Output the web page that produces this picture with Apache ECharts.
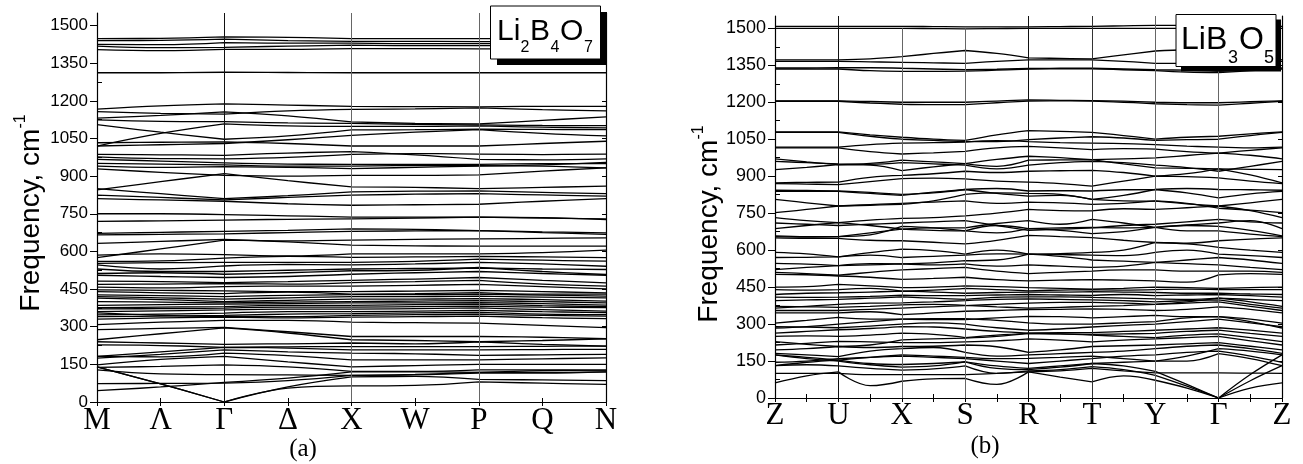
<!DOCTYPE html>
<html>
<head>
<meta charset="utf-8">
<script src="https://cdn.jsdelivr.net/npm/echarts@6/dist/echarts.min.js"></script>
<style>
html, body { margin: 0; padding: 0; background: #fff; }
#main { width: 1303px; height: 464px; }
</style>
</head>
<body>
<div id="main"></div>
<script>
// k-path labels
var kLabelsA = ['M', 'Λ', 'Γ', 'Δ', 'X', 'W', 'P', 'Q', 'N'];
var kLabelsB = ['Z', 'U', 'X', 'S', 'R', 'T', 'Y', 'Γ', 'Z'];

// frequency ticks, cm-1
var freqLabels = [0, 150, 300, 450, 600, 750, 900, 1050, 1200, 1350, 1500];
var freqMinor = [75, 225, 375, 525, 675, 825, 975, 1125, 1275, 1425];

// (a) Li2B4O7 : values at M, Λ, Γ, Δ, X, W, P, Q, N
var bandsA_top = [
	[1448,1449,1455,1453,1448,1448,1448,1448,1448],
	[1440,1441,1446,1440,1437,1437,1436,1436,1436],
	[1425,1424,1432,1430,1430,1428,1428,1428,1428],
	[1418,1412,1413,1418,1422,1420,1420,1420,1420],
	[1404,1400,1405,1405,1408,1408,1407,1407,1407],
	[1312,1312,1314,1313,1312,1312,1312,1312,1312]
];
var bandsA_1100 = [
	[1167,1180,1188,1183,1178,1177,1176,1178,1178],
	[1157,1150,1147,1160,1166,1168,1172,1165,1160],
	[1131,1142,1156,1140,1116,1110,1108,1122,1136],
	[1124,1118,1117,1112,1110,1106,1104,1102,1101],
	[1105,1075,1047,1060,1084,1085,1087,1086,1085],
	[1020,1070,1108,1100,1098,1098,1100,1095,1092],
	[1033,1035,1036,1030,1020,1020,1020,1030,1039],
	[1020,1025,1030,1045,1062,1075,1085,1070,1060]
];
var bandsA_900 = [
	[987,985,983,992,998,985,967,965,969],
	[977,970,969,975,987,990,988,986,988],
	[967,960,953,948,947,947,947,950,950],
	[951,948,945,940,940,942,942,940,933],
	[940,935,938,935,930,935,940,945,955],
	[929,915,903,900,903,903,905,920,933],
	[845,878,910,882,857,855,850,855,860],
	[850,830,810,822,837,840,841,835,830],
	[824,815,805,815,824,828,830,825,820],
	[810,805,800,790,784,786,788,800,810]
];
var bandsA_650 = [
	[750,750,747,742,737,737,737,735,727],
	[720,722,725,728,730,733,737,733,730],
	[672,676,680,684,690,688,683,678,674],
	[666,668,670,675,680,682,683,675,668],
	[632,640,648,638,625,622,621,621,621],
	[575,610,645,642,645,648,650,652,654],
	[585,590,587,582,590,590,590,595,605]
];
var bandsA_500 = [
	[560,562,573,580,576,578,580,578,575],
	[552,555,556,556,556,560,569,565,561],
	[546,530,542,548,546,550,556,550,541],
	[530,520,520,525,530,532,534,530,528],
	[512,515,509,515,523,525,536,520,508],
	[505,500,496,500,509,515,520,512,505],
	[482,480,476,480,485,490,496,485,475],
	[469,470,472,470,476,480,485,470,462],
	[458,455,460,462,462,465,469,460,451]
];
var bandsA_380 = [
	[447,445,443,440,440,442,445,440,435],
	[440,435,432,438,430,432,436,430,430],
	[427,424,420,425,428,428,430,426,422],
	[420,415,410,415,420,420,422,418,415],
	[414,408,400,405,410,410,412,408,402],
	[400,398,395,398,400,402,404,400,395],
	[385,388,390,392,395,395,396,392,386],
	[376,378,380,385,385,388,390,384,380],
	[371,372,374,378,378,380,382,378,376],
	[360,363,367,370,370,372,375,368,362],
	[347,350,354,360,360,362,365,360,356],
	[340,342,345,350,352,355,357,350,348],
	[355,345,340,340,345,348,350,345,342],
	[330,335,338,335,338,340,342,336,332]
];
var bandsA_low = [
	[308,318,325,325,318,316,314,305,296],
	[288,293,297,280,261,261,261,258,252],
	[248,272,295,275,248,245,240,245,252],
	[240,235,230,232,235,232,240,230,223],
	[228,225,218,220,221,221,221,222,223],
	[182,200,218,215,208,208,208,209,210],
	[175,190,208,200,195,192,186,188,190],
	[182,180,195,185,168,168,168,172,176],
	[148,170,182,160,140,145,150,150,150],
	[138,142,148,140,122,122,128,128,127],
	[128,112,109,108,106,110,118,118,120],
	[140,72,0,55,64,66,80,75,70],
	[140,72,0,60,100,102,90,88,85],
	[73,74,75,85,106,108,115,115,120],
	[45,60,78,95,120,120,118,125,127]
];

// (b) LiB3O5 : values at Z, ., U, ., X, ., S, ., R, ., T, ., Y, ., Γ, ., Z
var bandsB_top = [
	[1508,1508,1508,1508,1508,1507,1506,1506,1506,1507,1508,1510,1512,1512,1510,1509,1508],
	[1500,1500,1500,1500,1500,1499,1498,1499,1500,1500,1500,1500,1500,1500,1500,1500,1500],
	[1372,1372,1372,1376,1385,1398,1410,1398,1380,1378,1376,1392,1408,1413,1415,1395,1372],
	[1366,1366,1366,1364,1362,1360,1358,1366,1372,1372,1372,1366,1358,1358,1360,1362,1366],
	[1339,1339,1340,1340,1338,1335,1332,1334,1337,1338,1338,1335,1332,1330,1325,1332,1339],
	[1335,1335,1335,1328,1325,1325,1326,1330,1335,1336,1336,1332,1328,1322,1320,1328,1335],
	[1206,1206,1206,1203,1200,1200,1200,1205,1210,1208,1207,1205,1200,1198,1198,1202,1206],
	[1204,1204,1204,1197,1192,1190,1190,1198,1205,1206,1205,1200,1194,1190,1188,1196,1204]
];
var bandsB_900 = [
	[1080,1080,1080,1068,1058,1050,1045,1068,1085,1082,1078,1065,1050,1058,1062,1072,1080],
	[1078,1078,1078,1062,1050,1045,1040,1040,1048,1055,1060,1055,1045,1048,1050,1065,1078],
	[1018,1018,1018,1028,1034,1036,1038,1044,1040,1036,1034,1032,1028,1022,1018,1015,1018],
	[1015,1015,1015,1000,990,995,1001,1015,1021,1015,1008,1012,1010,1000,994,1005,1015],
	[970,958,947,952,965,958,951,968,981,975,967,970,974,984,994,985,970],
	[960,955,950,948,955,950,945,930,945,955,960,955,945,935,920,940,960],
	[927,936,947,945,923,938,951,940,965,966,967,950,934,932,930,928,927],
	[873,875,876,895,903,910,920,915,920,922,924,915,900,910,930,905,873],
	[870,868,866,878,890,892,889,880,876,870,860,880,900,898,893,880,870],
	[843,842,840,834,826,832,846,850,840,841,840,845,846,850,846,845,843],
	[838,838,838,830,822,835,846,830,819,822,806,822,846,832,812,828,838],
	[806,792,779,782,786,800,826,832,830,826,806,800,799,788,779,792,806]
];
var bandsB_650 = [
	[752,765,779,785,790,795,800,790,795,792,786,790,800,790,770,762,752],
	[732,720,712,722,729,732,739,750,765,760,759,768,765,772,779,760,732],
	[710,705,700,705,710,715,720,700,680,685,690,700,705,715,725,715,710],
	[687,700,712,700,685,690,690,708,720,705,725,710,692,702,710,720,687],
	[658,655,655,670,685,680,678,700,687,690,692,690,692,700,696,680,658],
	[655,653,655,662,696,690,678,670,687,680,667,675,692,678,678,665,655],
	[650,648,648,640,638,632,625,640,660,655,651,640,631,628,638,645,650],
	[591,585,573,590,604,598,584,600,584,586,591,600,631,625,611,600,591],
	[570,571,573,580,570,575,580,585,584,582,580,578,591,600,584,578,570],
	[546,543,537,545,544,548,557,560,584,575,560,555,550,560,570,560,546],
	[521,530,537,540,544,540,544,535,540,535,530,535,550,545,540,530,521],
	[510,505,498,510,520,525,530,515,505,510,515,520,520,515,515,515,510],
	[502,500,495,490,481,485,490,480,475,478,480,478,475,470,500,505,502]
];
var bandsB_400 = [
	[450,452,461,455,448,450,455,452,448,445,442,445,450,448,445,448,450],
	[440,438,440,445,434,438,445,440,435,438,440,438,440,442,440,440,440],
	[420,425,427,430,434,430,425,428,430,430,432,430,428,425,425,422,420],
	[409,408,409,412,417,415,415,418,420,418,416,420,415,418,420,415,409],
	[395,398,400,405,410,405,400,408,410,410,408,405,402,400,405,400,395],
	[372,370,368,372,378,380,376,370,365,368,372,375,380,390,405,390,372],
	[365,372,380,385,386,390,395,400,402,400,398,395,390,395,398,380,365],
	[355,355,355,360,365,370,375,380,385,388,388,385,380,385,390,372,355],
	[345,345,345,350,338,345,352,355,359,360,362,360,355,360,370,360,345],
	[304,315,327,320,320,318,318,325,331,330,325,330,335,330,330,320,304],
	[290,288,285,292,300,305,300,285,275,280,288,295,300,310,320,305,290],
	[284,290,300,310,320,322,322,315,305,300,300,305,310,325,330,310,284]
];
var bandsB_low = [
	[263,270,277,282,290,288,280,270,263,265,265,270,275,280,285,275,263],
	[250,252,250,255,263,258,245,255,262,260,258,260,262,270,275,262,250],
	[229,218,209,215,236,240,243,250,262,260,255,250,245,255,260,245,229],
	[215,222,230,228,225,225,228,232,240,235,228,235,240,245,250,232,215],
	[195,200,209,205,209,210,215,208,185,195,209,212,215,220,225,210,195],
	[181,175,168,190,200,205,185,170,175,180,185,190,200,210,215,200,181],
	[175,165,154,165,175,170,165,160,161,165,170,160,150,170,200,190,175],
	[145,150,160,165,170,165,160,150,140,150,160,170,175,185,190,170,145],
	[131,145,154,140,136,140,147,130,120,130,140,145,150,150,180,160,131],
	[100,100,100,95,95,95,95,100,106,110,120,110,102,102,102,101,100],
	[61,90,106,50,68,78,80,55,106,85,65,90,72,40,0,40,61],
	[131,135,130,120,113,118,130,100,110,115,127,115,92,48,0,70,131],
	[175,160,150,135,125,130,147,120,115,125,140,130,108,55,0,95,175]
];

var myChart = echarts.init( document.getElementById('main'), null, { renderer: 'canvas' } );

// one band -> legs between high-symmetry points, broken by nulls so each leg is smoothed alone
function bandData( vals, step )
{
	var d = [];
	for( var s = 0; s + 2 < vals.length; s += 2 )
	{
		if( s > 0 ) d.push( [ s * step, null ] );
		d.push( [ s * step, vals[s] ], [ (s + 1) * step, vals[s + 1] ], [ (s + 2) * step, vals[s + 2] ] );
	}
	return d;
}

function bandSeries( groups, step, xIdx, yIdx )
{
	var out = [];
	groups.forEach( function( g ){
		g.forEach( function( b ){
			out.push({
				type: 'line',
				xAxisIndex: xIdx,
				yAxisIndex: yIdx,
				data: bandData( b, step ),
				showSymbol: false,
				symbol: 'none',
				smooth: 0.4,
				connectNulls: false,
				silent: true,
				lineStyle: { color: '#000', width: 1.3 },
				z: 3
			});
		});
	});
	return out;
}

function vLineSeries( xIdx, yIdx, lines )
{
	return {
		type: 'line',
		xAxisIndex: xIdx,
		yAxisIndex: yIdx,
		data: [ [0, 0] ],
		symbol: 'none',
		lineStyle: { width: 0, opacity: 0 },
		silent: true,
		z: 2,
		markLine: {
			silent: true,
			symbol: [ 'none', 'none' ],
			label: { show: false },
			animation: false,
			data: lines
		}
	};
}

var axisBlack = { show: true, lineStyle: { color: '#000', width: 1.2 } };

function xAxes( grid, labels, step, fontSize, margin )
{
	return [
		{
			gridIndex: grid, type: 'value', min: 0, max: 8, interval: step,
			axisLine: axisBlack,
			axisTick: { show: true, inside: true, length: 4, lineStyle: { color: '#000' } },
			axisLabel: {
				margin: margin,
				color: '#000',
				fontFamily: 'Liberation Serif',
				fontSize: fontSize,
				lineHeight: fontSize,
				formatter: function( v ){ return ( Math.abs( v - Math.round( v ) ) < 1e-6 ) ? labels[ Math.round( v ) ] : ''; }
			},
			splitLine: { show: false }
		},
		{
			gridIndex: grid, type: 'value', min: 0, max: 8, interval: step, position: 'top',
			axisLine: axisBlack,
			axisTick: { show: true, inside: true, length: 4, lineStyle: { color: '#000' } },
			axisLabel: { show: false },
			splitLine: { show: false }
		}
	];
}

function yAxes( grid, fontSize )
{
	return [
		{
			gridIndex: grid, type: 'value', min: 0, max: 1550, interval: 75,
			axisLine: axisBlack,
			axisTick: { show: true, inside: false, length: 7, customValues: freqLabels, lineStyle: { color: '#000' } },
			axisLabel: {
				customValues: freqLabels,
				margin: 9,
				color: '#000',
				fontFamily: 'Liberation Sans',
				fontSize: fontSize,
				formatter: function( v ){ return ( v % 150 === 0 && v <= 1500 ) ? String( v ) : ''; }
			},
			splitLine: { show: false }
		},
		{
			gridIndex: grid, type: 'value', min: 0, max: 1550, interval: 75,
			axisLine: { show: false },
			axisTick: { show: true, inside: false, length: 5, customValues: freqMinor, lineStyle: { color: '#000' } },
			axisLabel: { show: false },
			splitLine: { show: false }
		},
		{
			gridIndex: grid, type: 'value', min: 0, max: 1550, interval: 75, position: 'right',
			axisLine: axisBlack,
			axisTick: { show: true, inside: true, length: 4, customValues: freqLabels, lineStyle: { color: '#000' } },
			axisLabel: { show: false },
			splitLine: { show: false }
		}
	];
}

var seriesA = bandSeries( [ bandsA_top, bandsA_1100, bandsA_900, bandsA_650, bandsA_500, bandsA_380, bandsA_low ], 1, 0, 0 );
var seriesB = bandSeries( [ bandsB_top, bandsB_900, bandsB_650, bandsB_400, bandsB_low ], 0.5, 2, 3 );

var vA = vLineSeries( 0, 0, [
	{ xAxis: 2, lineStyle: { color: '#111', width: 1, type: 'solid' } },
	{ xAxis: 4, lineStyle: { color: '#666', width: 1, type: 'solid' } },
	{ xAxis: 6, lineStyle: { color: '#666', width: 1, type: 'solid' } }
] );
var vB = vLineSeries( 2, 3, [
	{ xAxis: 1, lineStyle: { color: '#111', width: 1, type: 'solid' } },
	[ { coord: [2, 0], lineStyle: { color: '#666', width: 1, type: 'solid' } }, { coord: [2, 1500] } ],
	[ { coord: [3, 0], lineStyle: { color: '#666', width: 1, type: 'solid' } }, { coord: [3, 1500] } ],
	{ xAxis: 4, lineStyle: { color: '#111', width: 1, type: 'solid' } },
	{ xAxis: 5, lineStyle: { color: '#333', width: 1, type: 'solid' } },
	{ xAxis: 6, lineStyle: { color: '#666', width: 1, type: 'solid' } },
	{ xAxis: 7, lineStyle: { color: '#666', width: 1, type: 'solid' } }
] );

var titleRich = {
	a: { fontFamily: 'Liberation Sans', fontSize: 28, lineHeight: 33, verticalAlign: 'bottom', fill: '#000' },
	b: { fontFamily: 'Liberation Sans', fontSize: 16, lineHeight: 16, verticalAlign: 'top', fill: '#000' }
};

// formula pieces: text, x, middle y, font size
function formulaText( parts )
{
	return parts.map( function( p ){
		return { type: 'text', x: p[1], y: p[2], z: 102,
			style: { text: p[0], fontFamily: 'Liberation Sans', fontSize: p[3], fill: '#000', align: 'left', verticalAlign: 'middle' } };
	});
}

var formulaA = formulaText( [
	[ 'Li', 497, 32, 30 ], [ '2', 520.5, 48, 16 ], [ 'B', 530, 32, 30 ],
	[ '4', 550.5, 48, 16 ], [ 'O', 560, 32, 30 ], [ '7', 584, 48, 16 ]
] );
var formulaB = formulaText( [
	[ 'Li', 1181, 40, 32 ], [ 'B', 1206, 40, 32 ], [ '3', 1228, 58, 18 ],
	[ 'O', 1239, 40, 32 ], [ '5', 1264, 58, 18 ]
] );

myChart.setOption({
	animation: false,
	backgroundColor: '#fff',
	grid: [
		{ left: 97, top: 13, width: 509, height: 389 },
		{ left: 775, top: 16, width: 507, height: 382 }
	],
	xAxis: xAxes( 0, kLabelsA, 1, 31, 3 ).concat( xAxes( 1, kLabelsB, 0.5, 31, 2 ) ),
	yAxis: yAxes( 0, 17 ).concat( yAxes( 1, 18 ) ),
	series: [ vA, vB ].concat( seriesA, seriesB ),
	graphic: [
		{ type: 'text', x: 29, y: 213, rotation: Math.PI / 2, z: 100,
		  style: { text: '{a|Frequency, cm}{b|-1}', rich: titleRich, align: 'center', verticalAlign: 'middle' } },
		{ type: 'text', x: 707, y: 224, rotation: Math.PI / 2, z: 100,
		  style: { text: '{a|Frequency, cm}{b|-1}', rich: titleRich, align: 'center', verticalAlign: 'middle' } },
		{ type: 'text', x: 303, y: 449, z: 100,
		  style: { text: '(a)', fontFamily: 'Liberation Serif', fontSize: 25, fill: '#000', align: 'center', verticalAlign: 'middle' } },
		{ type: 'text', x: 985, y: 446, z: 100,
		  style: { text: '(b)', fontFamily: 'Liberation Serif', fontSize: 25, fill: '#000', align: 'center', verticalAlign: 'middle' } },
		// Li2B4O7 box
		{ type: 'rect', z: 100, shape: { x: 497, y: 12, width: 110, height: 53 }, style: { fill: '#000' } },
		{ type: 'rect', z: 101, shape: { x: 490.5, y: 6, width: 110, height: 53 }, style: { fill: '#fff', stroke: '#000', lineWidth: 1 } },
		// LiB3O5 box
		{ type: 'rect', z: 100, shape: { x: 1181, y: 19.5, width: 100, height: 52 }, style: { fill: '#000' } },
		{ type: 'rect', z: 101, shape: { x: 1176, y: 14.5, width: 100, height: 52 }, style: { fill: '#fff', stroke: '#000', lineWidth: 1 } }
	].concat( formulaA, formulaB )
});
</script>
</body>
</html>
